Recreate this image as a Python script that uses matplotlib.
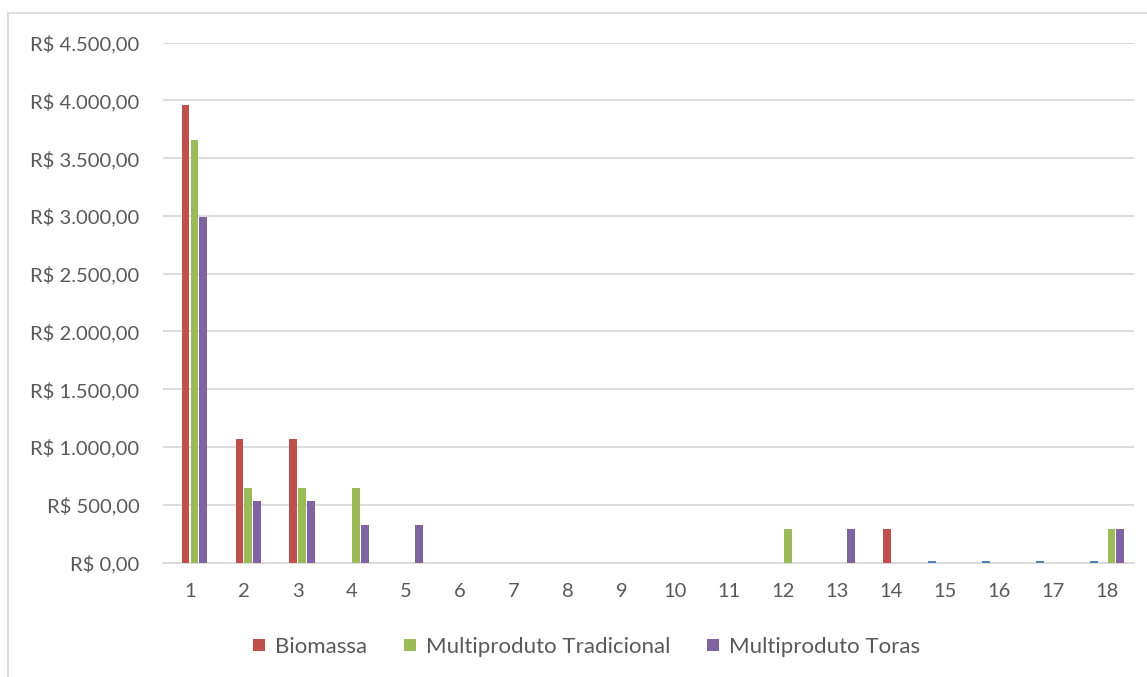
import matplotlib.pyplot as plt
import numpy as np
from matplotlib.patches import Rectangle
from matplotlib.ticker import FuncFormatter

plt.rcParams['font.family'] = ['Lato', 'DejaVu Sans']

categories = list(range(1, 19))
biomassa = [3957, 1073, 1073, 0, 0, 0, 0, 0, 0, 0, 0, 0, 0, 289, 0, 0, 0, 0]
tradicional = [3654, 644, 644, 644, 0, 0, 0, 0, 0, 0, 0, 289, 0, 0, 0, 0, 0, 289]
toras = [2988, 535, 535, 321, 321, 0, 0, 0, 0, 0, 0, 0, 289, 0, 0, 0, 0, 289]
# fourth series, not shown in the legend
outro = [0, 0, 0, 0, 0, 0, 0, 0, 0, 0, 0, 0, 0, 0, 15, 15, 15, 15]
y_ticks = [0, 500, 1000, 1500, 2000, 2500, 3000, 3500, 4000, 4500]


def brl(v, pos=None):
    s = f"{v:,.2f}"
    s = s.replace(",", "X").replace(".", ",").replace("X", ".")
    return "R$ " + s


fig = plt.figure(figsize=(11.47, 6.77), dpi=100)
ax = fig.add_axes([163 / 1147, 1 - 562.5 / 677, (1134 - 163) / 1147, (562.5 - 42.7) / 677])

x = np.array(categories)
w = 0.165
series = [
    (outro, "#4F81BD", None),
    (biomassa, "#C0504D", "Biomassa"),
    (tradicional, "#9BBB59", "Multiproduto Tradicional"),
    (toras, "#8064A2", "Multiproduto Toras"),
]
for i, (vals, col, lab) in enumerate(series):
    ax.bar(x + (i - 1.5) * w, vals, width=w * 0.88, color=col, label=lab,
           zorder=3, linewidth=0)

ax.set_xlim(0.5, 18.5)
ax.set_ylim(0, 4500)
ax.set_yticks(y_ticks)
ax.yaxis.set_major_formatter(FuncFormatter(brl))
ax.set_xticks(categories)
ax.grid(axis="y", color="#d9d9d9", linewidth=1.3, zorder=0)
for s in ["top", "right", "left"]:
    ax.spines[s].set_visible(False)
ax.spines["bottom"].set_color("#d9d9d9")
ax.spines["bottom"].set_linewidth(1.3)
ax.tick_params(axis="both", length=0, labelsize=14.5, colors="#595959")
ax.tick_params(axis="y", pad=17)
ax.tick_params(axis="x", pad=15)

handles, labels = ax.get_legend_handles_labels()
hl = [(h, l) for h, l in zip(handles, labels) if not l.startswith("_")]
fig.legend([h for h, l in hl], [l for h, l in hl], loc="center",
           bbox_to_anchor=(0.5 + 13 / 1147, 1 - 647 / 677), ncol=3, frameon=False,
           fontsize=16, labelcolor="#595959", handlelength=0.55,
           handleheight=0.5, handletextpad=0.45, columnspacing=1.65)

fig.patches.append(Rectangle((8 / 1147, -0.01), 1.1, 1 - 13 / 677 + 0.01,
                             transform=fig.transFigure, fill=False,
                             edgecolor="#d9d9d9", linewidth=1.3))

fig.savefig("out.png", dpi=100)
